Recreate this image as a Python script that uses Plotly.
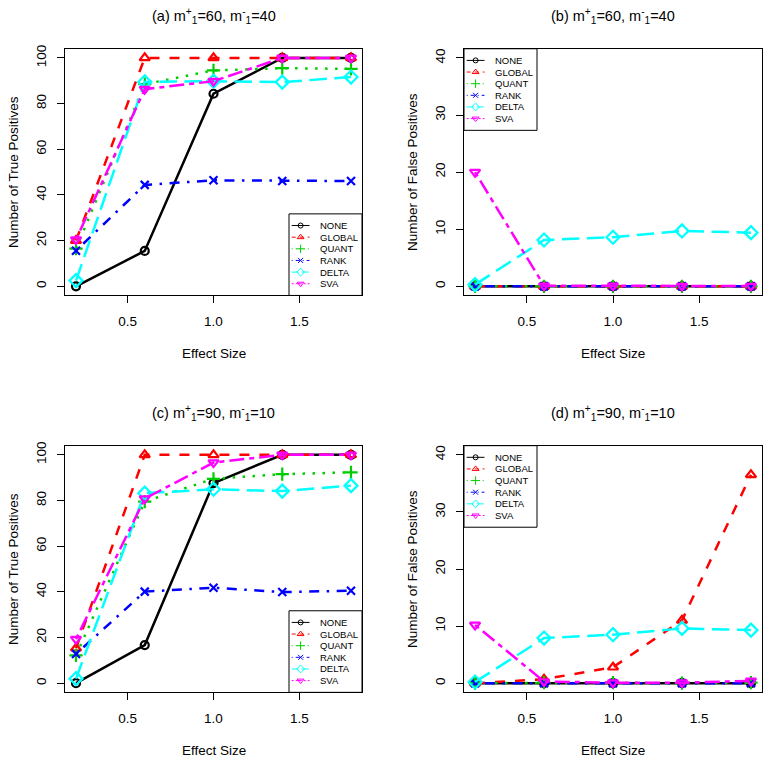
import plotly.graph_objects as go

W, H = 764, 758
FONT = "Liberation Sans, Arial, Helvetica, sans-serif"

# ---------------- data ----------------
effect_size = [0.2, 0.6, 1.0, 1.4, 1.8]
methods = ["NONE", "GLOBAL", "QUANT", "RANK", "DELTA", "SVA"]

# (a) true positives, m1+=60, m1-=40
tp_a_none = [0, 15.5, 84.3, 100, 100]
tp_a_global = [20, 100, 100, 100, 100]
tp_a_quant = [16.5, 88.5, 94.5, 95.5, 95.2]
tp_a_rank = [15.6, 44.4, 46.4, 46.1, 46.1]
tp_a_delta = [2.5, 89.5, 89.8, 89.4, 91.6]
tp_a_sva = [20.5, 86.3, 89.8, 100, 100]

# (b) false positives, m1+=60, m1-=40
fp_b_none = [0, 0, 0, 0, 0]
fp_b_global = [0, 0, 0, 0, 0]
fp_b_quant = [0, 0, 0, 0, 0]
fp_b_rank = [0, 0, 0, 0, 0]
fp_b_delta = [0.3, 8.1, 8.6, 9.7, 9.4]
fp_b_sva = [20.0, 0.1, 0.1, 0.05, 0.05]

# (c) true positives, m1+=90, m1-=10
tp_c_none = [0, 16.7, 87.6, 100, 100]
tp_c_global = [15.3, 100, 100, 100, 100]
tp_c_quant = [12.2, 79.5, 89.5, 91.5, 92.3]
tp_c_rank = [12.8, 40.1, 41.8, 39.9, 40.5]
tp_c_delta = [2.0, 83.2, 84.9, 84.1, 86.5]
tp_c_sva = [19.3, 80.8, 96.6, 100, 100]

# (d) false positives, m1+=90, m1-=10
fp_d_none = [0, 0, 0, 0, 0]
fp_d_global = [0, 0.7, 2.8, 11.0, 36.5]
fp_d_quant = [0, 0.1, 0.1, 0, 0.1]
fp_d_rank = [0, 0, 0, 0, 0]
fp_d_delta = [0.2, 7.9, 8.5, 9.6, 9.3]
fp_d_sva = [10.2, 0.3, 0.1, 0.1, 0.4]

x_tick_vals = [0.5, 1.0, 1.5]
x_tick_text = ["0.5", "1.0", "1.5"]
tp_ticks = [0, 20, 40, 60, 80, 100]
fp_ticks = [0, 10, 20, 30, 40]

# ---------------- styles ----------------
colors = ["#000000", "#FF0000", "#00CD00", "#0000FF", "#00FFFF", "#FF00FF"]
symbols = ["circle-open", "triangle-up-open", "cross-thin-open", "x-thin-open",
           "diamond-open", "triangle-down-open"]
msizes = [8, 9, 9.5, 8, 10, 9]
dash_main = ["solid", "10px,10px", "2.5px,7.5px", "2.5px,7.5px,10px,7.5px",
             "17.5px,7.5px", "5px,5px,15px,5px"]
dash_leg = ["solid", "4px,4px", "1px,3px", "1px,3px,4px,3px", "7px,3px", "2px,2px,6px,2px"]
leg_msizes = [5, 6, 6, 5, 6, 6]

panels = [
    dict(series=[tp_a_none, tp_a_global, tp_a_quant, tp_a_rank, tp_a_delta, tp_a_sva],
         title="(a) m<sup>+</sup><sub>1</sub>=60, m<sup>-</sup><sub>1</sub>=40",
         ylab="Number of True Positives", yr=[-4, 104], yt=tp_ticks,
         box=(65, 45, 362, 293), legend="br"),
    dict(series=[fp_b_none, fp_b_global, fp_b_quant, fp_b_rank, fp_b_delta, fp_b_sva],
         title="(b) m<sup>+</sup><sub>1</sub>=60, m<sup>-</sup><sub>1</sub>=40",
         ylab="Number of False Positives", yr=[-1.6, 41.6], yt=fp_ticks,
         box=(464, 45, 762, 293), legend="tl"),
    dict(series=[tp_c_none, tp_c_global, tp_c_quant, tp_c_rank, tp_c_delta, tp_c_sva],
         title="(c) m<sup>+</sup><sub>1</sub>=90, m<sup>-</sup><sub>1</sub>=10",
         ylab="Number of True Positives", yr=[-4, 104], yt=tp_ticks,
         box=(65, 444, 362, 692), legend="br"),
    dict(series=[fp_d_none, fp_d_global, fp_d_quant, fp_d_rank, fp_d_delta, fp_d_sva],
         title="(d) m<sup>+</sup><sub>1</sub>=90, m<sup>-</sup><sub>1</sub>=10",
         ylab="Number of False Positives", yr=[-1.6, 41.6], yt=fp_ticks,
         box=(464, 444, 762, 692), legend="tl"),
]


def px_x(p):
    return p / W


def px_y(p):
    return 1 - p / H


fig = go.Figure()
layout = dict(width=W, height=H, margin=dict(l=0, r=0, t=0, b=0),
              paper_bgcolor="white", plot_bgcolor="white", showlegend=False,
              font=dict(family=FONT, color="black", size=13.5))
annotations = []
shapes = []

LEG_W, LEG_H, LEG_STEP = 73, 82, 11.7

for i, p in enumerate(panels):
    n = i + 1
    ln = i + 5
    x0, y0, x1, y1 = p["box"]
    bw, bh = x1 - x0, y1 - y0
    xa, ya = ("x" if n == 1 else f"x{n}"), ("y" if n == 1 else f"y{n}")
    lxa, lya = f"x{ln}", f"y{ln}"
    axis_common = dict(showline=True, linecolor="black", linewidth=1, mirror=True,
                       ticks="outside", ticklen=7, tickwidth=1, tickcolor="black",
                       showgrid=False, zeroline=False,
                       tickfont=dict(family=FONT, size=13.5, color="black"),
                       ticklabelstandoff=6)
    layout[f"xaxis{n}"] = dict(domain=[px_x(x0), px_x(x1)], range=[0.136, 1.864],
                               tickvals=x_tick_vals, ticktext=x_tick_text,
                               anchor=ya, **axis_common)
    layout[f"yaxis{n}"] = dict(domain=[px_y(y1), px_y(y0)], range=p["yr"],
                               tickvals=p["yt"], tickangle=-90,
                               anchor=xa, **axis_common)
    # overlay axes in pixel units for the legend box
    layout[f"xaxis{ln}"] = dict(overlaying=xa, anchor=lya, range=[0, bw], visible=False,
                                fixedrange=True)
    layout[f"yaxis{ln}"] = dict(overlaying=ya, anchor=lxa, range=[bh, 0], visible=False,
                                fixedrange=True)

    for k, m in enumerate(methods):
        fig.add_trace(go.Scatter(
            x=effect_size, y=p["series"][k], mode="lines+markers", name=m,
            xaxis=xa, yaxis=ya,
            line=dict(color=colors[k], width=2.5, dash=dash_main[k]),
            marker=dict(symbol=symbols[k], size=msizes[k], color=colors[k],
                        line=dict(color=colors[k], width=2.2)),
            showlegend=False))

    # legend
    if p["legend"] == "br":
        lx0, ly0 = bw - LEG_W, bh - LEG_H
    else:
        lx0, ly0 = 0, 0
    shapes.append(dict(type="rect", xref=lxa, yref=lya, x0=lx0, x1=lx0 + LEG_W,
                       y0=ly0, y1=ly0 + LEG_H, line=dict(color="black", width=1),
                       fillcolor="rgba(0,0,0,0)", layer="above"))
    for k, m in enumerate(methods):
        yy = ly0 + LEG_STEP * (k + 1)
        fig.add_trace(go.Scatter(
            x=[lx0 + 2.7, lx0 + 20.5], y=[yy, yy], mode="lines",
            xaxis=lxa, yaxis=lya, hoverinfo="skip", showlegend=False,
            line=dict(color=colors[k], width=1, dash=dash_leg[k])))
        fig.add_trace(go.Scatter(
            x=[lx0 + 11.6], y=[yy], mode="markers",
            xaxis=lxa, yaxis=lya, hoverinfo="skip", showlegend=False,
            marker=dict(symbol=symbols[k], size=leg_msizes[k], color=colors[k],
                        line=dict(color=colors[k], width=1))))
        annotations.append(dict(xref=lxa, yref=lya, x=lx0 + 29, y=yy, text=m,
                                showarrow=False, xanchor="left", yanchor="middle",
                                font=dict(family=FONT, size=9.5, color="black")))

    # titles
    cx = (x0 + x1) / 2
    annotations.append(dict(xref="paper", yref="paper", x=px_x(cx), y=px_y(y0 - 33),
                            text=p["title"], showarrow=False, xanchor="center",
                            yanchor="middle", font=dict(family=FONT, size=14.5)))
    annotations.append(dict(xref="paper", yref="paper", x=px_x(cx), y=px_y(y1 + 58),
                            text="Effect Size", showarrow=False, xanchor="center",
                            yanchor="middle", font=dict(family=FONT, size=13.5)))
    annotations.append(dict(xref="paper", yref="paper", x=px_x(x0 - 52),
                            y=px_y((y0 + y1) / 2), text=p["ylab"], textangle=-90,
                            showarrow=False, xanchor="center", yanchor="middle",
                            font=dict(family=FONT, size=13.5)))

layout["annotations"] = annotations
layout["shapes"] = shapes
fig.update_layout(**layout)
fig.write_html("out.html",
               config={"displayModeBar": False, "staticPlot": True},
               post_script="document.body.style.margin='0px';"
                           "document.body.style.padding='0px';"
                           "document.body.style.overflow='hidden';")
